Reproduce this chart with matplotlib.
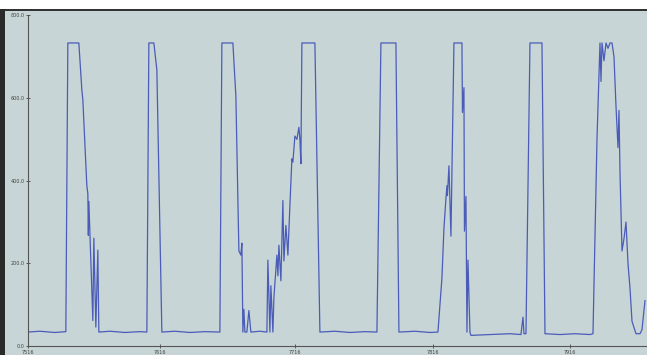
import matplotlib
matplotlib.use("Agg")
import matplotlib.pyplot as plt
from matplotlib.patches import Rectangle

# sample position and reading
t = [28, 40, 55, 66, 68, 79, 82, 83, 87, 88, 88.5, 89, 93, 94, 96, 98, 99,
     110, 125, 140, 147, 149, 154, 157, 162, 175, 190, 205, 220, 222, 233,
     236, 239, 241, 242, 243, 244, 245, 247, 249, 251, 260, 267, 268, 270,
     271, 273, 274, 277, 278, 279, 281, 283, 284, 286, 288, 290, 292, 293,
     295, 297, 299, 300, 301, 302, 315, 320, 335, 350, 365, 377, 381, 396,
     399, 415, 430, 438, 442, 444, 446, 447, 447.5, 449, 451, 454, 462,
     462.5, 464, 464.5, 466, 467, 468, 470, 471, 490, 510, 521, 523, 524,
     526, 530, 542, 545, 560, 575, 590, 593, 597, 599, 600, 601, 602, 604,
     606, 608, 610, 612, 614, 616, 618, 619, 620, 622, 624, 626, 628, 630,
     632, 636, 640, 642, 645]
value = [34, 36, 33, 35, 733, 733, 620, 596, 388, 369, 268, 350, 62, 261,
         46, 232, 34, 36, 33, 35, 34, 733, 733, 668, 34, 36, 33, 35, 34, 733,
         733, 604, 230, 220, 249, 34, 89, 34, 34, 86, 34, 36, 34, 208, 34,
         146, 34, 117, 220, 170, 244, 158, 352, 206, 292, 220, 340, 453, 445,
         508, 500, 529, 500, 441, 733, 733, 34, 36, 33, 35, 34, 733, 733, 34,
         36, 33, 34, 165, 285, 357, 388, 364, 436, 266, 733, 733, 565, 625,
         278, 362, 34, 208, 34, 26, 28, 30, 28, 70, 30, 30, 733, 733, 30, 28,
         30, 28, 30, 500, 660, 733, 640, 733, 690, 733, 720, 733, 733, 700,
         580, 480, 570, 420, 230, 260, 300, 200, 140, 60, 30, 30, 40, 110]

xtick_pos = [28, 160, 295, 433, 570]
xtick_labels = ["7516", "7616", "7716", "7816", "7916"]
ytick_pos = [0, 200, 400, 600, 800]
ytick_labels = ["0.0", "200.0", "400.0", "600.0", "800.0"]

bg = "#c8d5d6"
fig = plt.figure(figsize=(6.47, 3.55), dpi=100, facecolor=bg)

# screen bezel bits from the photo
fig.patches.append(Rectangle((0, 0.975), 1, 0.025, transform=fig.transFigure,
                             facecolor="white", edgecolor="none", zorder=-1))
fig.patches.append(Rectangle((0, 0.968), 1, 0.008, transform=fig.transFigure,
                             facecolor="#333333", edgecolor="none", zorder=-1))
fig.patches.append(Rectangle((0, 0), 0.008, 0.975, transform=fig.transFigure,
                             facecolor="#2a2a2a", edgecolor="none", zorder=-1))

ax = fig.add_axes([0.043, 0.025, 0.957, 0.932])
ax.set_facecolor(bg)
ax.plot(t, value, color="#4a5cb8", linewidth=0.9)

ax.set_xlim(28, 647)
ax.set_ylim(0, 800)
ax.set_xticks(xtick_pos)
ax.set_xticklabels(xtick_labels)
ax.set_yticks(ytick_pos)
ax.set_yticklabels(ytick_labels)
ax.tick_params(labelsize=3.5, colors="#444444", length=3, width=0.6,
               direction="inout", pad=1)

for s in ["top", "right"]:
    ax.spines[s].set_visible(False)
for s in ["left", "bottom"]:
    ax.spines[s].set_color("#555555")
    ax.spines[s].set_linewidth(0.8)

fig.savefig("out.png", dpi=100, facecolor=bg)
